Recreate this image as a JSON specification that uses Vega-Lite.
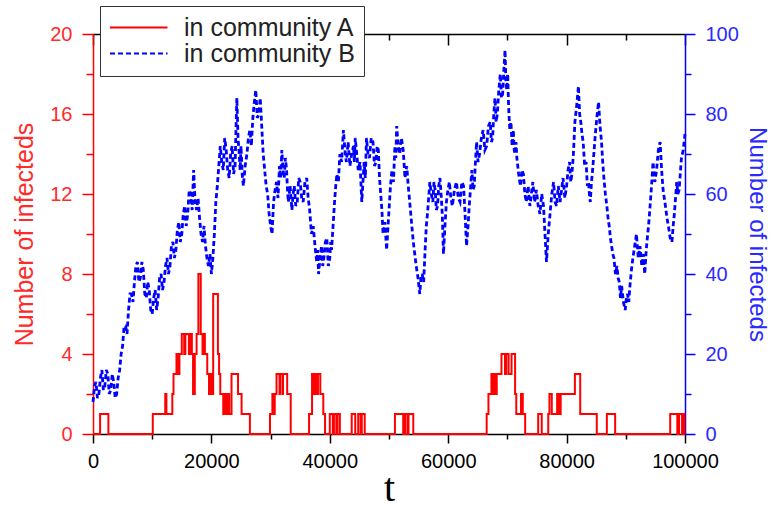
{
  "$schema": "https://vega.github.io/schema/vega-lite/v6.json",
  "width": 592,
  "height": 400,
  "autosize": {"type": "none"},
  "padding": {"left": 93, "top": 34, "right": 90, "bottom": 74},
  "background": "white",
  "config": {
    "view": {"stroke": null},
    "font": "Liberation Sans",
    "axis": {"grid": false, "labelFont": "Liberation Sans", "titleFont": "Liberation Sans", "titleFontWeight": "normal", "domainWidth": 1.5, "tickWidth": 1.5, "labelFlush": false, "labelOverlap": false}
  },
  "datasets": {
    "A": [
      {"t":0,"n":0,"s":"in community A"},{"t":1200,"n":1,"s":"in community A"},{"t":2600,"n":0,"s":"in community A"},{"t":10100,"n":1,"s":"in community A"},{"t":12200,"n":2,"s":"in community A"},{"t":12400,"n":1,"s":"in community A"},{"t":13400,"n":2,"s":"in community A"},{"t":13600,"n":3,"s":"in community A"},{"t":14100,"n":4,"s":"in community A"},{"t":14400,"n":3,"s":"in community A"},{"t":14600,"n":4,"s":"in community A"},{"t":15000,"n":5,"s":"in community A"},{"t":15400,"n":4,"s":"in community A"},{"t":15600,"n":5,"s":"in community A"},{"t":16200,"n":4,"s":"in community A"},{"t":16400,"n":5,"s":"in community A"},{"t":16700,"n":4,"s":"in community A"},{"t":16900,"n":2,"s":"in community A"},{"t":17200,"n":4,"s":"in community A"},{"t":17500,"n":5,"s":"in community A"},{"t":17800,"n":8,"s":"in community A"},{"t":18200,"n":5,"s":"in community A"},{"t":18500,"n":4,"s":"in community A"},{"t":18700,"n":5,"s":"in community A"},{"t":18900,"n":4,"s":"in community A"},{"t":19300,"n":3,"s":"in community A"},{"t":19600,"n":2,"s":"in community A"},{"t":19800,"n":3,"s":"in community A"},{"t":20000,"n":2,"s":"in community A"},{"t":20300,"n":7,"s":"in community A"},{"t":21100,"n":4,"s":"in community A"},{"t":21300,"n":3,"s":"in community A"},{"t":21500,"n":2,"s":"in community A"},{"t":22000,"n":1,"s":"in community A"},{"t":22200,"n":2,"s":"in community A"},{"t":22500,"n":1,"s":"in community A"},{"t":22800,"n":2,"s":"in community A"},{"t":23000,"n":1,"s":"in community A"},{"t":23400,"n":3,"s":"in community A"},{"t":24500,"n":2,"s":"in community A"},{"t":25100,"n":1,"s":"in community A"},{"t":26500,"n":0,"s":"in community A"},{"t":29900,"n":1,"s":"in community A"},{"t":30300,"n":2,"s":"in community A"},{"t":30500,"n":1,"s":"in community A"},{"t":30700,"n":2,"s":"in community A"},{"t":31000,"n":3,"s":"in community A"},{"t":31500,"n":2,"s":"in community A"},{"t":31600,"n":3,"s":"in community A"},{"t":32000,"n":2,"s":"in community A"},{"t":32100,"n":3,"s":"in community A"},{"t":32800,"n":2,"s":"in community A"},{"t":33400,"n":0,"s":"in community A"},{"t":36500,"n":1,"s":"in community A"},{"t":37000,"n":3,"s":"in community A"},{"t":37300,"n":2,"s":"in community A"},{"t":37500,"n":3,"s":"in community A"},{"t":37800,"n":2,"s":"in community A"},{"t":38000,"n":3,"s":"in community A"},{"t":38400,"n":2,"s":"in community A"},{"t":38900,"n":1,"s":"in community A"},{"t":39200,"n":0,"s":"in community A"},{"t":40000,"n":1,"s":"in community A"},{"t":40500,"n":0,"s":"in community A"},{"t":40700,"n":1,"s":"in community A"},{"t":41100,"n":0,"s":"in community A"},{"t":41300,"n":1,"s":"in community A"},{"t":41700,"n":0,"s":"in community A"},{"t":43700,"n":1,"s":"in community A"},{"t":44300,"n":0,"s":"in community A"},{"t":44800,"n":1,"s":"in community A"},{"t":45200,"n":0,"s":"in community A"},{"t":45400,"n":1,"s":"in community A"},{"t":45900,"n":0,"s":"in community A"},{"t":51000,"n":1,"s":"in community A"},{"t":52400,"n":0,"s":"in community A"},{"t":52700,"n":1,"s":"in community A"},{"t":53100,"n":0,"s":"in community A"},{"t":53300,"n":1,"s":"in community A"},{"t":54100,"n":0,"s":"in community A"},{"t":66500,"n":1,"s":"in community A"},{"t":66800,"n":2,"s":"in community A"},{"t":67300,"n":3,"s":"in community A"},{"t":67500,"n":2,"s":"in community A"},{"t":67700,"n":3,"s":"in community A"},{"t":67900,"n":2,"s":"in community A"},{"t":68200,"n":3,"s":"in community A"},{"t":69000,"n":4,"s":"in community A"},{"t":69600,"n":3,"s":"in community A"},{"t":69800,"n":4,"s":"in community A"},{"t":70200,"n":3,"s":"in community A"},{"t":70700,"n":4,"s":"in community A"},{"t":71300,"n":2,"s":"in community A"},{"t":71500,"n":1,"s":"in community A"},{"t":72300,"n":2,"s":"in community A"},{"t":72600,"n":1,"s":"in community A"},{"t":73000,"n":0,"s":"in community A"},{"t":75200,"n":1,"s":"in community A"},{"t":75800,"n":0,"s":"in community A"},{"t":76900,"n":1,"s":"in community A"},{"t":77100,"n":2,"s":"in community A"},{"t":77500,"n":1,"s":"in community A"},{"t":78400,"n":2,"s":"in community A"},{"t":78700,"n":1,"s":"in community A"},{"t":79000,"n":2,"s":"in community A"},{"t":81400,"n":3,"s":"in community A"},{"t":82300,"n":1,"s":"in community A"},{"t":85100,"n":0,"s":"in community A"},{"t":86800,"n":1,"s":"in community A"},{"t":88200,"n":0,"s":"in community A"},{"t":97500,"n":1,"s":"in community A"},{"t":98700,"n":0,"s":"in community A"},{"t":99000,"n":1,"s":"in community A"},{"t":99500,"n":0,"s":"in community A"},{"t":99700,"n":1,"s":"in community A"},{"t":99900,"n":0,"s":"in community A"},{"t":100000,"n":0,"s":"in community A"}
    ],
    "B": [
      {"t":0,"n":8,"s":"in community B"},{"t":250,"n":12,"s":"in community B"},{"t":500,"n":13,"s":"in community B"},{"t":750,"n":9,"s":"in community B"},{"t":1000,"n":10,"s":"in community B"},{"t":1250,"n":14,"s":"in community B"},{"t":1500,"n":16,"s":"in community B"},{"t":1750,"n":11,"s":"in community B"},{"t":2000,"n":12,"s":"in community B"},{"t":2250,"n":16,"s":"in community B"},{"t":2500,"n":15,"s":"in community B"},{"t":2750,"n":10,"s":"in community B"},{"t":3000,"n":11,"s":"in community B"},{"t":3250,"n":15,"s":"in community B"},{"t":3500,"n":13,"s":"in community B"},{"t":3750,"n":9,"s":"in community B"},{"t":4000,"n":10,"s":"in community B"},{"t":4250,"n":14,"s":"in community B"},{"t":4500,"n":16,"s":"in community B"},{"t":4750,"n":20,"s":"in community B"},{"t":5000,"n":22,"s":"in community B"},{"t":5250,"n":27,"s":"in community B"},{"t":5500,"n":27,"s":"in community B"},{"t":5750,"n":25,"s":"in community B"},{"t":6000,"n":31,"s":"in community B"},{"t":6250,"n":35,"s":"in community B"},{"t":6500,"n":35,"s":"in community B"},{"t":6750,"n":33,"s":"in community B"},{"t":7000,"n":38,"s":"in community B"},{"t":7250,"n":42,"s":"in community B"},{"t":7500,"n":43,"s":"in community B"},{"t":7750,"n":38,"s":"in community B"},{"t":8000,"n":39,"s":"in community B"},{"t":8250,"n":43,"s":"in community B"},{"t":8500,"n":41,"s":"in community B"},{"t":8750,"n":35,"s":"in community B"},{"t":9000,"n":34,"s":"in community B"},{"t":9250,"n":38,"s":"in community B"},{"t":9500,"n":36,"s":"in community B"},{"t":9750,"n":31,"s":"in community B"},{"t":10000,"n":30,"s":"in community B"},{"t":10250,"n":34,"s":"in community B"},{"t":10500,"n":36,"s":"in community B"},{"t":10750,"n":31,"s":"in community B"},{"t":11000,"n":34,"s":"in community B"},{"t":11250,"n":39,"s":"in community B"},{"t":11500,"n":40,"s":"in community B"},{"t":11750,"n":36,"s":"in community B"},{"t":12000,"n":38,"s":"in community B"},{"t":12250,"n":42,"s":"in community B"},{"t":12500,"n":44,"s":"in community B"},{"t":12750,"n":40,"s":"in community B"},{"t":13000,"n":42,"s":"in community B"},{"t":13250,"n":47,"s":"in community B"},{"t":13500,"n":48,"s":"in community B"},{"t":13750,"n":44,"s":"in community B"},{"t":14000,"n":46,"s":"in community B"},{"t":14250,"n":51,"s":"in community B"},{"t":14500,"n":53,"s":"in community B"},{"t":14750,"n":48,"s":"in community B"},{"t":15000,"n":50,"s":"in community B"},{"t":15250,"n":55,"s":"in community B"},{"t":15500,"n":57,"s":"in community B"},{"t":15750,"n":52,"s":"in community B"},{"t":16000,"n":55,"s":"in community B"},{"t":16250,"n":61,"s":"in community B"},{"t":16500,"n":60,"s":"in community B"},{"t":16750,"n":56,"s":"in community B"},{"t":17000,"n":66,"s":"in community B"},{"t":17250,"n":58,"s":"in community B"},{"t":17500,"n":56,"s":"in community B"},{"t":17750,"n":59,"s":"in community B"},{"t":18000,"n":54,"s":"in community B"},{"t":18250,"n":50,"s":"in community B"},{"t":18500,"n":48,"s":"in community B"},{"t":18750,"n":52,"s":"in community B"},{"t":19000,"n":47,"s":"in community B"},{"t":19250,"n":44,"s":"in community B"},{"t":19500,"n":42,"s":"in community B"},{"t":19750,"n":45,"s":"in community B"},{"t":20000,"n":40,"s":"in community B"},{"t":20250,"n":44,"s":"in community B"},{"t":20500,"n":50,"s":"in community B"},{"t":20750,"n":58,"s":"in community B"},{"t":21000,"n":62,"s":"in community B"},{"t":21250,"n":67,"s":"in community B"},{"t":21500,"n":72,"s":"in community B"},{"t":21750,"n":68,"s":"in community B"},{"t":22000,"n":66,"s":"in community B"},{"t":22250,"n":74,"s":"in community B"},{"t":22500,"n":71,"s":"in community B"},{"t":22750,"n":66,"s":"in community B"},{"t":23000,"n":64,"s":"in community B"},{"t":23250,"n":70,"s":"in community B"},{"t":23500,"n":72,"s":"in community B"},{"t":23750,"n":65,"s":"in community B"},{"t":24000,"n":67,"s":"in community B"},{"t":24150,"n":76,"s":"in community B"},{"t":24300,"n":84,"s":"in community B"},{"t":24500,"n":74,"s":"in community B"},{"t":24700,"n":70,"s":"in community B"},{"t":24850,"n":66,"s":"in community B"},{"t":25000,"n":72,"s":"in community B"},{"t":25200,"n":65,"s":"in community B"},{"t":25400,"n":62,"s":"in community B"},{"t":25700,"n":67,"s":"in community B"},{"t":26000,"n":70,"s":"in community B"},{"t":26250,"n":74,"s":"in community B"},{"t":26500,"n":76,"s":"in community B"},{"t":26750,"n":72,"s":"in community B"},{"t":27000,"n":79,"s":"in community B"},{"t":27250,"n":83,"s":"in community B"},{"t":27500,"n":86,"s":"in community B"},{"t":27750,"n":79,"s":"in community B"},{"t":28000,"n":80,"s":"in community B"},{"t":28250,"n":84,"s":"in community B"},{"t":28500,"n":77,"s":"in community B"},{"t":28750,"n":70,"s":"in community B"},{"t":29000,"n":66,"s":"in community B"},{"t":29250,"n":62,"s":"in community B"},{"t":29500,"n":60,"s":"in community B"},{"t":29750,"n":55,"s":"in community B"},{"t":30000,"n":52,"s":"in community B"},{"t":30250,"n":50,"s":"in community B"},{"t":30500,"n":58,"s":"in community B"},{"t":30750,"n":61,"s":"in community B"},{"t":31000,"n":63,"s":"in community B"},{"t":31250,"n":59,"s":"in community B"},{"t":31500,"n":67,"s":"in community B"},{"t":31700,"n":64,"s":"in community B"},{"t":31900,"n":71,"s":"in community B"},{"t":32100,"n":66,"s":"in community B"},{"t":32300,"n":64,"s":"in community B"},{"t":32500,"n":69,"s":"in community B"},{"t":32700,"n":66,"s":"in community B"},{"t":32850,"n":61,"s":"in community B"},{"t":33000,"n":58,"s":"in community B"},{"t":33300,"n":62,"s":"in community B"},{"t":33600,"n":56,"s":"in community B"},{"t":33800,"n":60,"s":"in community B"},{"t":34000,"n":62,"s":"in community B"},{"t":34250,"n":57,"s":"in community B"},{"t":34500,"n":58,"s":"in community B"},{"t":34750,"n":64,"s":"in community B"},{"t":35000,"n":63,"s":"in community B"},{"t":35250,"n":59,"s":"in community B"},{"t":35500,"n":58,"s":"in community B"},{"t":35800,"n":63,"s":"in community B"},{"t":36100,"n":64,"s":"in community B"},{"t":36350,"n":59,"s":"in community B"},{"t":36600,"n":56,"s":"in community B"},{"t":36900,"n":50,"s":"in community B"},{"t":37200,"n":52,"s":"in community B"},{"t":37500,"n":47,"s":"in community B"},{"t":37800,"n":43,"s":"in community B"},{"t":37950,"n":46,"s":"in community B"},{"t":38100,"n":40,"s":"in community B"},{"t":38350,"n":44,"s":"in community B"},{"t":38600,"n":47,"s":"in community B"},{"t":38800,"n":42,"s":"in community B"},{"t":39000,"n":44,"s":"in community B"},{"t":39250,"n":48,"s":"in community B"},{"t":39500,"n":49,"s":"in community B"},{"t":39750,"n":42,"s":"in community B"},{"t":40000,"n":44,"s":"in community B"},{"t":40150,"n":48,"s":"in community B"},{"t":40300,"n":46,"s":"in community B"},{"t":40550,"n":52,"s":"in community B"},{"t":40800,"n":58,"s":"in community B"},{"t":41000,"n":62,"s":"in community B"},{"t":41200,"n":65,"s":"in community B"},{"t":41450,"n":63,"s":"in community B"},{"t":41700,"n":70,"s":"in community B"},{"t":42000,"n":68,"s":"in community B"},{"t":42300,"n":76,"s":"in community B"},{"t":42550,"n":71,"s":"in community B"},{"t":42800,"n":68,"s":"in community B"},{"t":43100,"n":73,"s":"in community B"},{"t":43400,"n":67,"s":"in community B"},{"t":43700,"n":70,"s":"in community B"},{"t":44000,"n":72,"s":"in community B"},{"t":44150,"n":68,"s":"in community B"},{"t":44300,"n":74,"s":"in community B"},{"t":44550,"n":70,"s":"in community B"},{"t":44800,"n":66,"s":"in community B"},{"t":45100,"n":68,"s":"in community B"},{"t":45400,"n":58,"s":"in community B"},{"t":45600,"n":63,"s":"in community B"},{"t":45800,"n":68,"s":"in community B"},{"t":46000,"n":64,"s":"in community B"},{"t":46200,"n":74,"s":"in community B"},{"t":46450,"n":70,"s":"in community B"},{"t":46700,"n":69,"s":"in community B"},{"t":47000,"n":74,"s":"in community B"},{"t":47300,"n":73,"s":"in community B"},{"t":47550,"n":67,"s":"in community B"},{"t":47800,"n":68,"s":"in community B"},{"t":48000,"n":72,"s":"in community B"},{"t":48200,"n":71,"s":"in community B"},{"t":48400,"n":64,"s":"in community B"},{"t":48600,"n":60,"s":"in community B"},{"t":48800,"n":56,"s":"in community B"},{"t":49000,"n":50,"s":"in community B"},{"t":49300,"n":53,"s":"in community B"},{"t":49600,"n":46,"s":"in community B"},{"t":49800,"n":51,"s":"in community B"},{"t":50000,"n":56,"s":"in community B"},{"t":50250,"n":62,"s":"in community B"},{"t":50500,"n":66,"s":"in community B"},{"t":50750,"n":63,"s":"in community B"},{"t":51000,"n":72,"s":"in community B"},{"t":51150,"n":69,"s":"in community B"},{"t":51300,"n":77,"s":"in community B"},{"t":51550,"n":72,"s":"in community B"},{"t":51800,"n":70,"s":"in community B"},{"t":52100,"n":74,"s":"in community B"},{"t":52400,"n":71,"s":"in community B"},{"t":52700,"n":64,"s":"in community B"},{"t":53000,"n":67,"s":"in community B"},{"t":53250,"n":62,"s":"in community B"},{"t":53500,"n":58,"s":"in community B"},{"t":53800,"n":53,"s":"in community B"},{"t":54100,"n":48,"s":"in community B"},{"t":54350,"n":45,"s":"in community B"},{"t":54600,"n":42,"s":"in community B"},{"t":54900,"n":39,"s":"in community B"},{"t":55200,"n":35,"s":"in community B"},{"t":55400,"n":39,"s":"in community B"},{"t":55600,"n":40,"s":"in community B"},{"t":55850,"n":38,"s":"in community B"},{"t":56100,"n":46,"s":"in community B"},{"t":56300,"n":52,"s":"in community B"},{"t":56500,"n":55,"s":"in community B"},{"t":56700,"n":59,"s":"in community B"},{"t":56900,"n":63,"s":"in community B"},{"t":57150,"n":60,"s":"in community B"},{"t":57400,"n":58,"s":"in community B"},{"t":57600,"n":63,"s":"in community B"},{"t":57800,"n":61,"s":"in community B"},{"t":58000,"n":56,"s":"in community B"},{"t":58200,"n":57,"s":"in community B"},{"t":58400,"n":62,"s":"in community B"},{"t":58600,"n":64,"s":"in community B"},{"t":58800,"n":60,"s":"in community B"},{"t":59000,"n":55,"s":"in community B"},{"t":59100,"n":50,"s":"in community B"},{"t":59200,"n":45,"s":"in community B"},{"t":59450,"n":52,"s":"in community B"},{"t":59700,"n":58,"s":"in community B"},{"t":59950,"n":61,"s":"in community B"},{"t":60200,"n":63,"s":"in community B"},{"t":60450,"n":59,"s":"in community B"},{"t":60700,"n":57,"s":"in community B"},{"t":61050,"n":61,"s":"in community B"},{"t":61400,"n":63,"s":"in community B"},{"t":61700,"n":59,"s":"in community B"},{"t":62000,"n":58,"s":"in community B"},{"t":62300,"n":63,"s":"in community B"},{"t":62600,"n":62,"s":"in community B"},{"t":62850,"n":55,"s":"in community B"},{"t":63100,"n":47,"s":"in community B"},{"t":63350,"n":52,"s":"in community B"},{"t":63600,"n":58,"s":"in community B"},{"t":63800,"n":62,"s":"in community B"},{"t":64000,"n":66,"s":"in community B"},{"t":64200,"n":61,"s":"in community B"},{"t":64400,"n":62,"s":"in community B"},{"t":64600,"n":68,"s":"in community B"},{"t":64800,"n":73,"s":"in community B"},{"t":65050,"n":68,"s":"in community B"},{"t":65300,"n":70,"s":"in community B"},{"t":65600,"n":74,"s":"in community B"},{"t":65900,"n":76,"s":"in community B"},{"t":66200,"n":71,"s":"in community B"},{"t":66500,"n":72,"s":"in community B"},{"t":66800,"n":77,"s":"in community B"},{"t":67100,"n":78,"s":"in community B"},{"t":67300,"n":73,"s":"in community B"},{"t":67500,"n":74,"s":"in community B"},{"t":67700,"n":80,"s":"in community B"},{"t":67900,"n":84,"s":"in community B"},{"t":68100,"n":78,"s":"in community B"},{"t":68300,"n":80,"s":"in community B"},{"t":68550,"n":86,"s":"in community B"},{"t":68800,"n":90,"s":"in community B"},{"t":69000,"n":84,"s":"in community B"},{"t":69200,"n":85,"s":"in community B"},{"t":69400,"n":91,"s":"in community B"},{"t":69600,"n":96,"s":"in community B"},{"t":69750,"n":88,"s":"in community B"},{"t":69900,"n":86,"s":"in community B"},{"t":70050,"n":90,"s":"in community B"},{"t":70200,"n":82,"s":"in community B"},{"t":70400,"n":76,"s":"in community B"},{"t":70600,"n":78,"s":"in community B"},{"t":70800,"n":72,"s":"in community B"},{"t":71000,"n":76,"s":"in community B"},{"t":71150,"n":71,"s":"in community B"},{"t":71300,"n":70,"s":"in community B"},{"t":71450,"n":73,"s":"in community B"},{"t":71600,"n":69,"s":"in community B"},{"t":71900,"n":65,"s":"in community B"},{"t":72200,"n":62,"s":"in community B"},{"t":72450,"n":66,"s":"in community B"},{"t":72700,"n":65,"s":"in community B"},{"t":72950,"n":60,"s":"in community B"},{"t":73200,"n":58,"s":"in community B"},{"t":73500,"n":62,"s":"in community B"},{"t":73800,"n":57,"s":"in community B"},{"t":74050,"n":60,"s":"in community B"},{"t":74300,"n":63,"s":"in community B"},{"t":74600,"n":58,"s":"in community B"},{"t":74900,"n":61,"s":"in community B"},{"t":75200,"n":57,"s":"in community B"},{"t":75500,"n":55,"s":"in community B"},{"t":75800,"n":60,"s":"in community B"},{"t":76100,"n":57,"s":"in community B"},{"t":76350,"n":50,"s":"in community B"},{"t":76600,"n":43,"s":"in community B"},{"t":76900,"n":50,"s":"in community B"},{"t":77200,"n":55,"s":"in community B"},{"t":77500,"n":60,"s":"in community B"},{"t":77800,"n":63,"s":"in community B"},{"t":78050,"n":58,"s":"in community B"},{"t":78300,"n":57,"s":"in community B"},{"t":78600,"n":62,"s":"in community B"},{"t":78900,"n":58,"s":"in community B"},{"t":79150,"n":61,"s":"in community B"},{"t":79400,"n":64,"s":"in community B"},{"t":79700,"n":59,"s":"in community B"},{"t":80000,"n":62,"s":"in community B"},{"t":80250,"n":66,"s":"in community B"},{"t":80500,"n":68,"s":"in community B"},{"t":80700,"n":63,"s":"in community B"},{"t":80900,"n":65,"s":"in community B"},{"t":81150,"n":70,"s":"in community B"},{"t":81400,"n":78,"s":"in community B"},{"t":81700,"n":82,"s":"in community B"},{"t":82000,"n":87,"s":"in community B"},{"t":82200,"n":80,"s":"in community B"},{"t":82400,"n":78,"s":"in community B"},{"t":82600,"n":75,"s":"in community B"},{"t":82800,"n":73,"s":"in community B"},{"t":83050,"n":67,"s":"in community B"},{"t":83300,"n":68,"s":"in community B"},{"t":83500,"n":62,"s":"in community B"},{"t":83700,"n":63,"s":"in community B"},{"t":83850,"n":60,"s":"in community B"},{"t":84000,"n":58,"s":"in community B"},{"t":84200,"n":63,"s":"in community B"},{"t":84400,"n":66,"s":"in community B"},{"t":84600,"n":70,"s":"in community B"},{"t":84800,"n":74,"s":"in community B"},{"t":85100,"n":79,"s":"in community B"},{"t":85400,"n":83,"s":"in community B"},{"t":85650,"n":77,"s":"in community B"},{"t":85900,"n":73,"s":"in community B"},{"t":86100,"n":68,"s":"in community B"},{"t":86300,"n":64,"s":"in community B"},{"t":86550,"n":60,"s":"in community B"},{"t":86800,"n":57,"s":"in community B"},{"t":87000,"n":54,"s":"in community B"},{"t":87200,"n":52,"s":"in community B"},{"t":87400,"n":49,"s":"in community B"},{"t":87600,"n":47,"s":"in community B"},{"t":87800,"n":45,"s":"in community B"},{"t":88000,"n":44,"s":"in community B"},{"t":88250,"n":40,"s":"in community B"},{"t":88500,"n":42,"s":"in community B"},{"t":88700,"n":39,"s":"in community B"},{"t":88900,"n":38,"s":"in community B"},{"t":89100,"n":34,"s":"in community B"},{"t":89300,"n":37,"s":"in community B"},{"t":89600,"n":33,"s":"in community B"},{"t":89900,"n":31,"s":"in community B"},{"t":90100,"n":34,"s":"in community B"},{"t":90300,"n":35,"s":"in community B"},{"t":90500,"n":33,"s":"in community B"},{"t":90700,"n":37,"s":"in community B"},{"t":90950,"n":41,"s":"in community B"},{"t":91200,"n":44,"s":"in community B"},{"t":91500,"n":47,"s":"in community B"},{"t":91800,"n":50,"s":"in community B"},{"t":92100,"n":44,"s":"in community B"},{"t":92400,"n":47,"s":"in community B"},{"t":92700,"n":42,"s":"in community B"},{"t":93000,"n":45,"s":"in community B"},{"t":93100,"n":42,"s":"in community B"},{"t":93200,"n":40,"s":"in community B"},{"t":93450,"n":46,"s":"in community B"},{"t":93700,"n":50,"s":"in community B"},{"t":93900,"n":53,"s":"in community B"},{"t":94100,"n":57,"s":"in community B"},{"t":94350,"n":62,"s":"in community B"},{"t":94600,"n":68,"s":"in community B"},{"t":94900,"n":63,"s":"in community B"},{"t":95200,"n":66,"s":"in community B"},{"t":95500,"n":71,"s":"in community B"},{"t":95800,"n":73,"s":"in community B"},{"t":96050,"n":66,"s":"in community B"},{"t":96300,"n":61,"s":"in community B"},{"t":96500,"n":59,"s":"in community B"},{"t":96700,"n":57,"s":"in community B"},{"t":96950,"n":54,"s":"in community B"},{"t":97200,"n":52,"s":"in community B"},{"t":97500,"n":49,"s":"in community B"},{"t":97800,"n":48,"s":"in community B"},{"t":98000,"n":52,"s":"in community B"},{"t":98200,"n":55,"s":"in community B"},{"t":98400,"n":59,"s":"in community B"},{"t":98600,"n":63,"s":"in community B"},{"t":98800,"n":60,"s":"in community B"},{"t":99000,"n":61,"s":"in community B"},{"t":99200,"n":65,"s":"in community B"},{"t":99400,"n":69,"s":"in community B"},{"t":99700,"n":71,"s":"in community B"},{"t":100000,"n":75,"s":"in community B"}
    ]
  },
  "layer": [
    {
      "data": {"name": "B"},
      "mark": {"type": "line", "strokeWidth": 2.8},
      "encoding": {
        "x": {"field": "t", "type": "quantitative", "scale": {"domain": [0, 100000], "nice": false},
          "axis": {"orient": "top", "title": null, "labels": false, "values": [0,10000,20000,30000,40000,50000,60000,70000,80000,90000,100000],
            "domainColor": "black", "tickColor": "black",
            "tickSize": {"condition": {"test": "datum.value % 20000 == 0", "value": -11}, "value": -6}}},
        "y": {"field": "n", "type": "quantitative", "scale": {"domain": [0, 100], "nice": false},
          "axis": {"orient": "right", "values": [0,10,20,30,40,50,60,70,80,90,100],
            "labelExpr": "datum.value % 20 == 0 ? datum.label : ''",
            "domainColor": "#0000ff", "tickColor": "#0000ff", "labelColor": "#2a2aff", "labelFontSize": 20, "labelPadding": 10,
            "tickSize": {"condition": {"test": "datum.value % 20 == 0", "value": 10}, "value": 6},
            "title": "Number of infecteds", "titleColor": "#2a2aff", "titleFontSize": 24, "titlePadding": 6}},
        "color": {"field": "s", "type": "nominal", "scale": {"domain": ["in community A", "in community B"], "range": ["#ff0000", "#0000ff"]}},
        "strokeDash": {"field": "s", "type": "nominal", "scale": {"domain": ["in community A", "in community B"], "range": [[1, 0], [5, 3]]}}
      }
    },
    {
      "data": {"name": "A"},
      "mark": {"type": "line", "interpolate": "step-after", "strokeWidth": 2},
      "encoding": {
        "x": {"field": "t", "type": "quantitative", "scale": {"domain": [0, 100000], "nice": false},
          "axis": {"orient": "bottom", "values": [0,10000,20000,30000,40000,50000,60000,70000,80000,90000,100000], "format": "d",
            "labelExpr": "datum.value % 20000 == 0 ? datum.label : ''",
            "domainColor": "black", "tickColor": "black", "labelColor": "black", "labelFontSize": 20, "labelPadding": 8,
            "tickSize": {"condition": {"test": "datum.value % 20000 == 0", "value": 9}, "value": 5},
            "title": "t", "titleFont": "Liberation Serif", "titleFontSize": 40, "titleColor": "black", "titlePadding": -3}},
        "y": {"field": "n", "type": "quantitative", "scale": {"domain": [0, 20], "nice": false},
          "axis": {"orient": "left", "values": [0,2,4,6,8,10,12,14,16,18,20],
            "labelExpr": "datum.value % 4 == 0 ? datum.label : ''",
            "domainColor": "#ff0000", "tickColor": "#ff0000", "labelColor": "#ff2a2a", "labelFontSize": 20, "labelPadding": 10,
            "tickSize": {"condition": {"test": "datum.value % 4 == 0", "value": 11}, "value": 7},
            "title": "Number of infecteds", "titleColor": "#ff2a2a", "titleFontSize": 25, "titlePadding": 12}},
        "color": {"field": "s", "type": "nominal", "scale": {"domain": ["in community A", "in community B"], "range": ["#ff0000", "#0000ff"]},
          "legend": {"orient": "none", "legendX": 7, "legendY": -28, "title": null, "strokeColor": "#333333", "fillColor": "white", "padding": 9,
            "labelFontSize": 25, "labelColor": "#222222", "labelFont": "Liberation Sans", "labelOffset": 50, "labelLimit": 400, "rowPadding": 0,
            "symbolType": "M-1,0H4", "symbolSize": 529, "symbolStrokeWidth": 2}},
        "strokeDash": {"field": "s", "type": "nominal", "scale": {"domain": ["in community A", "in community B"], "range": [[1, 0], [5, 3]]}}
      }
    }
  ],
  "resolve": {"scale": {"y": "independent"}, "axis": {"x": "independent"}}
}
